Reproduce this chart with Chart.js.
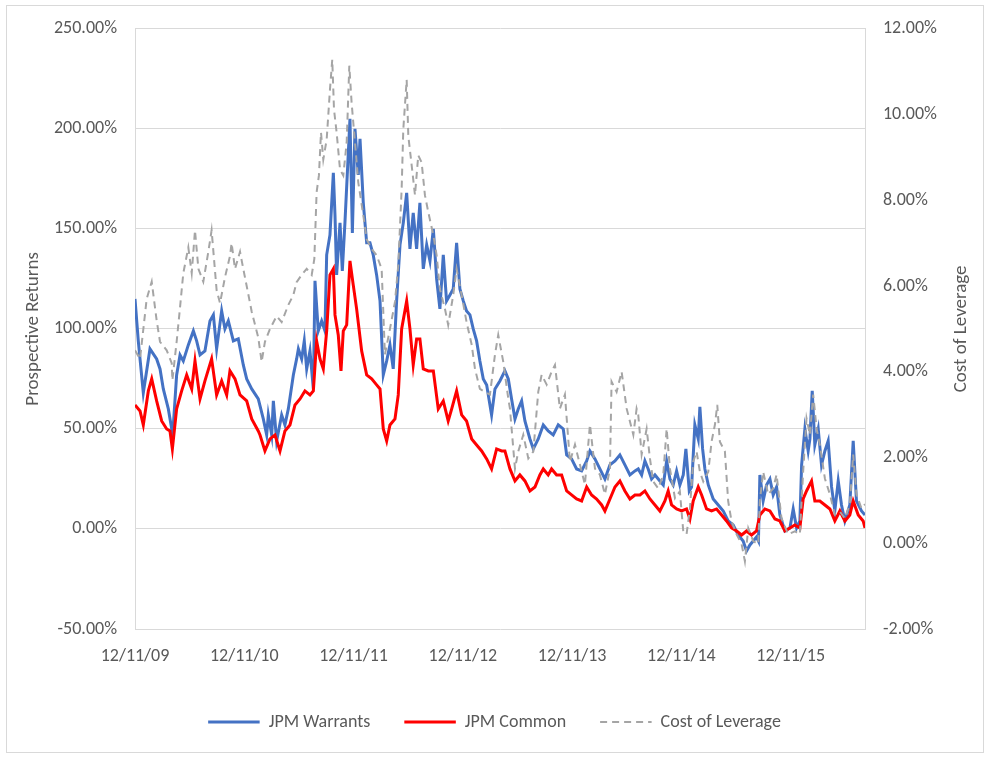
<!DOCTYPE html>
<html><head><meta charset="utf-8">
<script src="https://cdn.jsdelivr.net/npm/chart.js@4.4.1/dist/chart.umd.min.js"></script>
<style>
html,body{margin:0;padding:0;background:#fff;}
#wrap{position:absolute;left:0;top:0;width:989px;height:759px;}
#frame{position:absolute;left:6px;top:5px;width:976px;height:746px;border:1px solid #d9d9d9;pointer-events:none;}
</style></head><body>
<div id="wrap"><canvas id="c" width="989" height="759"></canvas></div>
<div id="frame"></div>
<script>
// x positions are in years after 12/11/09
const xLabels = ['12/11/09','12/11/10','12/11/11','12/11/12','12/11/13','12/11/14','12/11/15'];

const warrantsT = [0.000,0.030,0.076,0.137,0.198,0.229,0.259,0.305,0.336,0.345,0.381,0.412,0.442,0.488,0.534,0.564,0.595,0.640,0.686,0.717,0.747,0.793,0.823,0.854,0.900,0.945,0.991,1.022,1.068,1.128,1.174,1.205,1.220,1.251,1.266,1.296,1.342,1.372,1.403,1.449,1.479,1.495,1.525,1.549,1.571,1.601,1.632,1.647,1.677,1.708,1.738,1.754,1.784,1.815,1.830,1.845,1.876,1.897,1.921,1.952,1.967,1.989,2.013,2.043,2.059,2.089,2.120,2.150,2.180,2.211,2.242,2.272,2.303,2.333,2.363,2.394,2.425,2.455,2.486,2.516,2.546,2.577,2.607,2.638,2.669,2.699,2.730,2.760,2.790,2.821,2.851,2.882,2.912,2.943,2.973,3.004,3.034,3.065,3.095,3.126,3.156,3.187,3.218,3.263,3.294,3.339,3.385,3.416,3.446,3.477,3.507,3.538,3.568,3.614,3.645,3.690,3.736,3.781,3.827,3.873,3.919,3.950,3.995,4.041,4.087,4.133,4.163,4.209,4.254,4.300,4.346,4.392,4.437,4.483,4.529,4.575,4.605,4.636,4.666,4.696,4.727,4.758,4.803,4.834,4.865,4.895,4.925,4.956,4.986,5.017,5.041,5.072,5.093,5.123,5.154,5.169,5.194,5.215,5.246,5.291,5.337,5.383,5.428,5.474,5.520,5.565,5.596,5.627,5.657,5.687,5.705,5.718,5.748,5.779,5.810,5.840,5.871,5.901,5.947,5.993,6.023,6.054,6.084,6.100,6.130,6.160,6.176,6.197,6.221,6.252,6.282,6.313,6.343,6.374,6.404,6.435,6.465,6.496,6.541,6.572,6.602,6.648,6.680];
const warrantsV = [115,94,68,90,85,80,70,60,50,47,77,87,84,92,99,94,87,89,104,107,90,109,100,104,94,95,82,75,70,65,55,47,57,47,64,44,57,52,60,77,85,90,85,94,80,89,70,124,99,104,99,137,147,178,157,127,153,129,153,188,205,148,200,177,195,163,143,143,137,127,114,77,84,92,80,114,142,153,168,140,158,140,163,130,142,134,150,125,110,137,114,117,120,143,120,114,109,107,100,94,84,75,72,57,70,74,79,75,65,55,60,64,54,45,40,45,52,49,47,52,50,37,35,30,29,34,39,35,30,25,32,34,37,32,27,29,30,27,34,30,25,27,24,22,34,25,22,29,22,27,40,19,21,52,45,61,40,30,22,15,12,9,4,2,-3,-6,-11,-8,-6,-4,-6,27,14,22,25,17,21,7,-1,0.5,10,0.5,4,32,50,39,45,69,42,50,32,39,44,21,9,24,12,4,12,44,14,9,7];

const commonT = [0.000,0.046,0.076,0.122,0.153,0.198,0.244,0.290,0.320,0.342,0.381,0.427,0.473,0.519,0.549,0.595,0.640,0.701,0.747,0.793,0.839,0.869,0.915,0.961,1.022,1.068,1.128,1.144,1.189,1.235,1.281,1.327,1.372,1.418,1.464,1.510,1.555,1.601,1.632,1.662,1.693,1.723,1.754,1.784,1.815,1.830,1.860,1.885,1.906,1.937,1.967,1.997,2.028,2.074,2.120,2.166,2.211,2.242,2.272,2.303,2.333,2.379,2.409,2.440,2.486,2.516,2.546,2.577,2.607,2.638,2.684,2.730,2.775,2.821,2.866,2.898,2.943,2.989,3.034,3.081,3.126,3.172,3.218,3.263,3.309,3.355,3.385,3.431,3.477,3.522,3.568,3.614,3.660,3.705,3.736,3.781,3.812,3.858,3.904,3.950,3.995,4.041,4.087,4.133,4.178,4.224,4.270,4.300,4.346,4.392,4.437,4.483,4.529,4.575,4.621,4.666,4.712,4.758,4.803,4.849,4.879,4.910,4.956,5.002,5.047,5.078,5.108,5.154,5.185,5.230,5.276,5.322,5.368,5.413,5.459,5.505,5.551,5.596,5.642,5.687,5.718,5.764,5.810,5.856,5.901,5.947,5.993,6.038,6.084,6.114,6.145,6.191,6.221,6.267,6.313,6.359,6.404,6.450,6.496,6.541,6.572,6.618,6.663,6.680];
const commonV = [62,59,52,69,75,64,54,50,49,40,60,69,77,70,84,65,74,85,67,74,67,79,75,67,64,55,49,47,39,45,47,39,49,52,62,65,69,67,69,94,85,80,99,127,130,107,97,79,99,102,134,122,110,89,77,75,72,70,50,44,52,55,67,100,114,100,82,95,95,80,79,79,60,64,54,60,69,57,54,45,42,39,35,30,40,39,39,30,24,27,24,19,21,27,30,27,30,27,27,19,17,15,14,21,17,15,12,9,15,21,24,19,15,17,17,19,15,12,9,14,19,12,10,9,10,5,14,21,17,10,9,10,7,4,0.5,-1,-3,-1,-3,-1,7,10,9,5,4,-1,0.5,2,0.5,15,19,24,14,14,12,10,4,9,4,7,14,7,4,0.5];

const leverageT = [0.000,0.046,0.107,0.153,0.198,0.229,0.290,0.336,0.342,0.381,0.412,0.442,0.488,0.519,0.549,0.580,0.625,0.671,0.701,0.747,0.778,0.823,0.869,0.884,0.915,0.961,0.991,1.022,1.068,1.128,1.159,1.189,1.235,1.296,1.342,1.403,1.449,1.479,1.525,1.571,1.617,1.641,1.662,1.683,1.702,1.723,1.754,1.784,1.805,1.821,1.845,1.876,1.906,1.937,1.961,1.982,2.013,2.043,2.089,2.120,2.166,2.211,2.257,2.272,2.287,2.333,2.379,2.409,2.440,2.455,2.486,2.501,2.532,2.562,2.592,2.623,2.653,2.684,2.730,2.760,2.790,2.836,2.866,2.912,2.943,2.989,3.034,3.081,3.111,3.156,3.202,3.248,3.294,3.324,3.370,3.416,3.431,3.477,3.507,3.553,3.599,3.645,3.690,3.721,3.767,3.812,3.843,3.888,3.934,3.980,4.026,4.071,4.117,4.163,4.209,4.254,4.300,4.346,4.361,4.407,4.453,4.499,4.529,4.560,4.590,4.605,4.636,4.682,4.712,4.742,4.788,4.834,4.865,4.895,4.941,4.986,5.017,5.047,5.078,5.108,5.139,5.169,5.200,5.246,5.276,5.307,5.328,5.352,5.398,5.428,5.459,5.505,5.551,5.581,5.612,5.657,5.703,5.718,5.748,5.794,5.840,5.871,5.916,5.977,6.038,6.084,6.114,6.145,6.176,6.206,6.237,6.267,6.313,6.359,6.404,6.450,6.496,6.541,6.572,6.602,6.648,6.680];
const leverageV = [4.5,4.3,5.7,6.1,5.2,4.7,4.5,4.2,3.8,4.7,5.5,6.3,6.9,6.3,7.3,6.4,6.1,6.8,7.3,5.9,5.6,6.2,6.7,7.0,6.4,6.8,6.4,6.0,5.4,4.8,4.23,4.7,5.0,5.3,5.16,5.56,5.79,6.09,6.26,6.4,6.26,6.63,8.19,8.58,9.58,8.95,9.42,10.58,11.28,10.12,9.58,8.72,8.58,9.35,11.14,10.28,9.35,8.42,7.65,7.09,6.86,6.72,6.4,5.4,4.4,5.0,5.63,6.49,8.26,9.65,10.81,9.5,8.81,8.12,9.05,8.88,8.12,7.72,7.19,6.72,5.93,5.47,5.09,5.79,6.4,5.79,5.16,4.63,4.07,3.6,3.53,3.47,4.4,4.86,4.23,3.37,3.14,1.74,2.14,2.53,1.98,2.14,3.53,3.93,3.7,4.0,4.16,3.14,3.47,1.9,2.3,1.84,1.37,2.77,1.74,1.6,1.14,1.74,3.77,3.53,4.0,3.14,2.84,2.53,3.14,3.0,2.07,2.67,1.98,1.44,1.28,1.6,2.67,1.74,1.05,1.21,0.28,0.21,0.81,1.9,2.14,1.67,1.44,1.67,2.37,2.77,3.23,2.37,2.14,0.98,0.51,0.21,-0.02,-0.42,0.35,0.05,-0.02,0.98,1.67,1.14,1.28,1.6,0.58,0.21,0.28,0.21,1.67,2.91,2.53,3.47,2.67,2.3,1.51,1.14,0.67,0.74,0.58,0.91,2.07,1.14,0.81,0.91];

const seriesNames = ['JPM Warrants','JPM Common','Cost of Leverage'];
const axisTitles = ['Prospective Returns','Cost of Leverage'];

const toXY = (T, V) => T.map((t, i) => ({x: t, y: V[i]}));
const FONT = "Carlito, Lato, 'Open Sans', sans-serif";
const TXT = '#595959';
const pct = v => Number(v).toFixed(2) + '%';

// Right axis title reads bottom-to-top like the left one
const rightTitle = {
  id: 'rightTitle',
  afterDraw(chart) {
    const ctx = chart.ctx, a = chart.chartArea;
    ctx.save();
    ctx.translate(chart.width - 28, (a.top + a.bottom) / 2);
    ctx.rotate(-Math.PI / 2);
    ctx.font = '19px ' + FONT;
    ctx.fillStyle = TXT;
    ctx.textAlign = 'center';
    ctx.textBaseline = 'middle';
    ctx.fillText(axisTitles[1], 0, 0);
    ctx.restore();
  }
};

new Chart(document.getElementById('c'), {
  type: 'line',
  data: {
    datasets: [
      {label: seriesNames[0], data: toXY(warrantsT, warrantsV), yAxisID: 'y', borderColor: '#4472C4', backgroundColor: '#4472C4', borderWidth: 3, pointRadius: 0, tension: 0, order: 3},
      {label: seriesNames[1], data: toXY(commonT, commonV), yAxisID: 'y', borderColor: '#FF0000', backgroundColor: '#FF0000', borderWidth: 3, pointRadius: 0, tension: 0, order: 2},
      {label: seriesNames[2], data: toXY(leverageT, leverageV), yAxisID: 'y1', borderColor: '#A5A5A5', backgroundColor: '#A5A5A5', borderWidth: 2, borderDash: [7, 5], pointRadius: 0, tension: 0, order: 1}
    ]
  },
  plugins: [rightTitle],
  options: {
    responsive: false,
    animation: false,
    devicePixelRatio: 1,
    layout: {padding: {top: 26, bottom: 18, left: 0, right: 0}},
    plugins: {
      tooltip: {enabled: false},
      legend: {
        position: 'bottom',
        labels: {
          color: TXT, font: {family: FONT, size: 18},
          boxWidth: 51.5, boxHeight: 0, padding: 34,
          sort: (a, b) => a.datasetIndex - b.datasetIndex
        }
      }
    },
    scales: {
      x: {
        type: 'linear', min: 0, max: 6.68,
        grid: {display: false, drawTicks: false},
        border: {display: false},
        ticks: {stepSize: 1, includeBounds: false, autoSkip: false, maxRotation: 0, padding: 17,
          color: TXT, font: {family: FONT, size: 18},
          callback: v => (xLabels[v] !== undefined ? xLabels[v] : '')},
        afterFit: s => { s.height = 50; }
      },
      y: {
        position: 'left', min: -50, max: 250,
        grid: {color: '#d9d9d9', drawTicks: false},
        border: {display: true, color: '#d9d9d9'},
        ticks: {stepSize: 50, padding: 18, color: TXT, font: {family: FONT, size: 18}, callback: pct},
        title: {display: true, text: axisTitles[0], color: TXT, font: {family: FONT, size: 19}, padding: {top: 22, bottom: 0}},
        afterFit: s => { s.width = 135; }
      },
      y1: {
        position: 'right', min: -2, max: 12,
        grid: {display: false, drawTicks: false},
        border: {display: true, color: '#d9d9d9'},
        ticks: {stepSize: 2, padding: 18, color: TXT, font: {family: FONT, size: 18}, callback: pct},
        title: {display: false},
        afterFit: s => { s.width = 124; }
      }
    }
  }
});
</script>
</body></html>
